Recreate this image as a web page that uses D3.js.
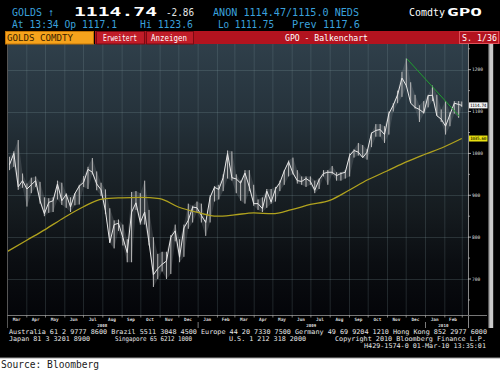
<!DOCTYPE html>
<html lang="en">
<head>
<meta charset="utf-8">
<title>GOLDS Comdty GPO</title>
<script src="https://d3js.org/d3.v7.min.js"></script>
<style>
  body { margin: 0; background: #000; }
  svg { display: block; }
  text { font-family: "DejaVu Sans Mono", monospace; }
</style>
</head>
<body>
<script>

// weekly bars (Mondays from 3 Mar 2008 to 1 Mar 2010)
var weekHigh = [992, 1005, 1032, 952, 928, 942, 945, 932, 895, 893, 895, 935, 930, 905, 895, 905, 925, 946, 968, 989,
  957, 930, 914, 869, 840, 842, 830, 795, 908, 910, 905, 935, 865, 800, 760, 765, 765, 805, 830, 795,
  830, 880, 875, 885, 880, 840, 900, 922, 925, 950, 1007, 1005, 950, 935, 960, 960, 925, 890, 895, 915,
  915, 920, 935, 960, 983, 990, 960, 945, 945, 945, 935, 940, 960, 960, 970, 955, 955, 960, 1000, 1010,
  1025, 1020, 1010, 1050, 1070, 1070, 1065, 1100, 1120, 1150, 1195, 1227, 1170, 1140, 1115, 1125, 1140, 1162, 1140, 1105,
  1125, 1098, 1125, 1125, 1124];
var weekLow = [960, 968, 913, 918, 873, 905, 920, 880, 850, 858, 860, 890, 877, 870, 860, 876, 878, 920, 915, 950,
  912, 898, 855, 786, 773, 815, 780, 740, 740, 865, 830, 830, 780, 681, 700, 718, 700, 712, 790, 740,
  753, 820, 835, 860, 835, 803, 835, 885, 890, 910, 940, 935, 905, 887, 880, 910, 875, 865, 860, 870,
  880, 885, 910, 925, 945, 950, 928, 925, 920, 925, 905, 915, 945, 925, 950, 935, 935, 940, 945, 990,
  995, 990, 985, 1015, 1040, 1040, 1025, 1045, 1100, 1120, 1135, 1160, 1120, 1107, 1075, 1095, 1110, 1125, 1090, 1075,
  1045, 1065, 1095, 1085, 1111];
var weekClose = [973, 1000, 920, 935, 915, 925, 935, 887, 856, 883, 887, 927, 887, 902, 872, 904, 922, 931, 962, 955,
  927, 913, 863, 787, 830, 833, 799, 763, 860, 882, 835, 860, 787, 710, 725, 735, 743, 800, 815, 752,
  822, 840, 872, 870, 852, 835, 895, 919, 914, 942, 1000, 942, 939, 929, 953, 920, 880, 880, 868, 910,
  884, 915, 930, 958, 980, 953, 935, 933, 940, 933, 912, 937, 952, 955, 955, 947, 952, 955, 995, 1007,
  1003, 990, 1003, 1048, 1055, 1057, 1045, 1095, 1115, 1140, 1180, 1162, 1120, 1110, 1105, 1097, 1138, 1139, 1090, 1082,
  1065, 1093, 1120, 1117, 1114.74];

// 200-day moving average, first of each month Mar 2008 .. Mar 2010
var maValues = [765, 792, 818, 847, 872, 891, 894, 895, 892, 872, 859, 850, 853, 858, 856, 866, 878, 888,
  912, 937, 958, 979, 998, 1016, 1035.6];

// green trend line
var trendDates = [new Date(2009, 11, 3), new Date(2010, 1, 25)];
var trendValues = [1226, 1089];

var yTicks = [700, 800, 900, 1000, 1100, 1200];
var yMinor = [650, 750, 850, 950, 1050, 1150, 1250];
var lastPrice = 1114.74;

var W = 500, H = 370;
var plot = {left: 7, right: 468, top: 44, bottom: 315};

var svg = d3.select("body").append("svg")
  .attr("width", W).attr("height", H);

svg.append("rect").attr("width", W).attr("height", H).attr("fill", "#000");

var x = d3.scaleTime()
  .domain([new Date(2008, 2, 1), new Date(2010, 2, 11)])
  .range([plot.left, plot.right]);
var y = d3.scaleLinear().domain([700, 1200]).range([279, 69.7]);

var weeks = d3.timeMonday.range(new Date(2008, 2, 3), new Date(2010, 2, 2));
var lastDay = new Date(2010, 2, 1);
var bars = weeks.map(function(d, i) {
  var mid = d3.timeDay.offset(d, 2);
  if (mid > lastDay) mid = lastDay;
  return {date: mid, hi: weekHigh[i], lo: weekLow[i], close: weekClose[i]};
});
var months = d3.timeMonth.range(new Date(2008, 2, 1), new Date(2010, 2, 2));
var ma = months.map(function(d, i) { return {date: d, v: maValues[i]}; });

// background gradient
var defs = svg.append("defs");
var grad = defs.append("linearGradient").attr("id", "bg")
  .attr("gradientUnits", "userSpaceOnUse")
  .attr("x1", 0).attr("x2", 0).attr("y1", plot.top).attr("y2", plot.bottom);
[[0, "#2f3f4a"], [0.25, "#26333c"], [0.45, "#1c252b"], [0.62, "#151b1f"], [0.8, "#0b0e12"], [1, "#040509"]]
  .forEach(function(s) { grad.append("stop").attr("offset", s[0]).attr("stop-color", s[1]); });
defs.append("clipPath").attr("id", "clip").append("rect")
  .attr("x", plot.left).attr("y", plot.top)
  .attr("width", plot.right - plot.left).attr("height", plot.bottom - plot.top);

svg.append("rect")
  .attr("x", plot.left).attr("y", plot.top)
  .attr("width", plot.right - plot.left).attr("height", plot.bottom - plot.top)
  .attr("fill", "url(#bg)");

// grid
var grid = svg.append("g").attr("clip-path", "url(#clip)");
grid.selectAll(".vg").data(months.slice(1)).enter().append("line")
  .attr("x1", function(d) { return x(d) + 0.5; }).attr("x2", function(d) { return x(d) + 0.5; })
  .attr("y1", plot.top).attr("y2", plot.bottom)
  .attr("stroke", "#8aa4aa").attr("stroke-opacity", 0.2);
grid.selectAll(".hg").data(yTicks).enter().append("line")
  .attr("x1", plot.left).attr("x2", plot.right)
  .attr("y1", function(d) { return Math.round(y(d)) + 0.5; })
  .attr("y2", function(d) { return Math.round(y(d)) + 0.5; })
  .attr("stroke", "#8aa4aa").attr("stroke-opacity", 0.22);

// price bars
var g = svg.append("g").attr("clip-path", "url(#clip)");
g.append("path").datum(bars)
  .attr("d", d3.area()
    .x(function(d) { return x(d.date); })
    .y0(function(d) { return y(d.lo); })
    .y1(function(d) { return y(d.hi); }))
  .attr("fill", "#9aa0a4").attr("fill-opacity", 0.22);
g.selectAll(".bar").data(bars).enter().append("line")
  .attr("x1", function(d) { return x(d.date); }).attr("x2", function(d) { return x(d.date); })
  .attr("y1", function(d) { return y(d.lo); }).attr("y2", function(d) { return y(d.hi); })
  .attr("stroke", "#bcbcbc").attr("stroke-width", 1);
g.append("path").datum(bars)
  .attr("d", d3.line().x(function(d) { return x(d.date); }).y(function(d) { return y(d.close); }))
  .attr("fill", "none").attr("stroke", "#e8e8e8").attr("stroke-width", 1);

// moving average
g.append("path").datum(ma)
  .attr("d", d3.line().curve(d3.curveMonotoneX)
    .x(function(d) { return x(d.date); }).y(function(d) { return y(d.v); }))
  .attr("fill", "none").attr("stroke", "#b0a21e").attr("stroke-width", 1.3);

// trend line
g.append("line")
  .attr("x1", x(trendDates[0])).attr("y1", y(trendValues[0]))
  .attr("x2", x(trendDates[1])).attr("y2", y(trendValues[1]))
  .attr("stroke", "#1f9e2e").attr("stroke-width", 1);

// frame
svg.append("line").attr("x1", plot.left + 0.5).attr("x2", plot.left + 0.5)
  .attr("y1", plot.top).attr("y2", 328).attr("stroke", "#555");
svg.append("line").attr("x1", plot.right + 0.5).attr("x2", plot.right + 0.5)
  .attr("y1", plot.top).attr("y2", 328).attr("stroke", "#888");
svg.append("line").attr("x1", plot.left).attr("x2", 487)
  .attr("y1", plot.bottom + 0.5).attr("y2", plot.bottom + 0.5).attr("stroke", "#777");

// right axis
var ra = svg.append("g");
ra.selectAll(".maj").data(yTicks).enter().append("line")
  .attr("x1", plot.right).attr("x2", plot.right + 3)
  .attr("y1", function(d) { return y(d); }).attr("y2", function(d) { return y(d); })
  .attr("stroke", "#ccc").attr("stroke-width", 0.8);
ra.selectAll(".min").data(yMinor.filter(function(d) { return y(d) > plot.top && y(d) < plot.bottom; }))
  .enter().append("line")
  .attr("x1", plot.right).attr("x2", plot.right + 2)
  .attr("y1", function(d) { return y(d); }).attr("y2", function(d) { return y(d); })
  .attr("stroke", "#aaa").attr("stroke-width", 0.8);
ra.selectAll(".lab").data(yTicks).enter().append("text")
  .attr("x", 472).attr("y", function(d) { return y(d); }).attr("dy", "0.35em")
  .attr("font-size", 4.6).attr("fill", "#ddd").text(function(d) { return d; });

// last value tags
function tag(v, bg) {
  ra.append("rect").attr("x", 469).attr("y", y(v) - 3).attr("width", 18.5).attr("height", 6)
    .attr("fill", bg);
  ra.append("text").attr("x", 470).attr("y", y(v)).attr("dy", "0.35em")
    .attr("font-size", 4.4).attr("fill", "#000").attr("textLength", 16.5)
    .text(d3.format(".2f")(v));
}
tag(lastPrice, "#f2f2f2");
tag(maValues[maValues.length - 1], "#e8e010");

// scrollbar
svg.append("rect").attr("x", 488).attr("y", plot.top).attr("width", 1.2).attr("height", 284).attr("fill", "#555");
svg.append("rect").attr("x", 489.2).attr("y", plot.top).attr("width", 4).attr("height", 284).attr("fill", "#c9c9c9");

// bottom axis
var ba = svg.append("g");
ba.selectAll(".tk").data(months.slice(1)).enter().append("line")
  .attr("x1", function(d) { return x(d) + 0.5; }).attr("x2", function(d) { return x(d) + 0.5; })
  .attr("y1", plot.bottom).attr("y2", plot.bottom + 2.5)
  .attr("stroke", "#999").attr("stroke-width", 0.8);
ba.selectAll(".ml").data(months.slice(0, 24)).enter().append("text")
  .attr("x", function(d) { return (x(d) + x(d3.timeMonth.offset(d, 1))) / 2; })
  .attr("y", 321)
  .attr("text-anchor", "middle").attr("font-size", 4.4).attr("font-weight", "bold")
  .attr("fill", "#ddd").text(d3.timeFormat("%b"));
var years = [2008, 2009, 2010];
ba.selectAll(".yl").data(years).enter().append("text")
  .attr("x", function(d) {
    var a = Math.max(x(new Date(d, 0, 1)), plot.left);
    var b = Math.min(x(new Date(d + 1, 0, 1)), x(new Date(2010, 2, 1)));
    return (a + b) / 2;
  })
  .attr("y", 326.5).attr("text-anchor", "middle").attr("font-size", 4.2).attr("font-weight", "bold")
  .attr("fill", "#ddd").text(function(d) { return d; });
ba.selectAll(".ys").data([new Date(2009, 0, 1), new Date(2010, 0, 1)]).enter().append("line")
  .attr("x1", function(d) { return x(d) + 0.5; }).attr("x2", function(d) { return x(d) + 0.5; })
  .attr("y1", 322).attr("y2", 328).attr("stroke", "#999").attr("stroke-width", 0.8);

// header
var cyan = "#3aa0dc";
function txt(s, px, py, size, fill, len, weight, family) {
  var t = svg.append("text").attr("x", px).attr("y", py).attr("font-size", size)
    .attr("fill", fill).text(s);
  if (len) t.attr("textLength", len).attr("lengthAdjust", "spacingAndGlyphs");
  if (weight) t.attr("font-weight", weight);
  if (family) t.attr("font-family", family);
  return t;
}
txt("GOLDS", 12, 15.6, 11, cyan, 30);
txt("\u2191", 48.5, 15.6, 11, cyan, 5);
txt("1114.74", 74, 15.7, 12.5, "#fff", 83, "bold");
txt("-2.86", 166, 15.6, 11, "#e6e6e6", 28);
txt("ANON 1114.47/1115.0 NEDS", 213, 15.6, 11, cyan, 146);
txt("Comdty", 409, 15.6, 10.5, "#fff", 36, null, "Liberation Sans, Arial, sans-serif");
txt("GPO", 447, 15.8, 11, "#fff", 35, "bold", "Liberation Sans, Arial, sans-serif");
txt("At 13:34 Op 1117.1", 12, 27.6, 11, cyan, 105);
txt("Hi 1123.6", 140, 27.6, 11, cyan, 53);
txt("Lo 1111.75", 218, 27.6, 11, cyan, 56);
txt("Prev 1117.6", 292, 27.6, 11, cyan, 68);

// tab bar
svg.append("rect").attr("x", 95).attr("y", 31).attr("width", 405).attr("height", 13).attr("fill", "#b3131f");
svg.append("rect").attr("x", 5.5).attr("y", 31.5).attr("width", 88).attr("height", 12.5)
  .attr("fill", "#f6a31c").attr("stroke", "#c27406");
txt("GOLDS COMDTY", 7, 41.2, 9, "#3a2200", 66);
[[96, 48, "Erweitert", 103, 34], [146, 47, "Anzeigen", 151, 36]].forEach(function(t) {
  svg.append("rect").attr("x", t[0] + 0.5).attr("y", 31.5).attr("width", t[1]).attr("height", 12.5)
    .attr("fill", "#c01c28").attr("stroke", "#7a0a12");
  txt(t[2], t[3], 41, 8.5, "#fff", t[4], null, "Liberation Sans, Arial, sans-serif");
});
txt("GPO - Balkenchart", 285, 41.2, 9, "#fff", 83);
svg.append("rect").attr("x", 459.5).attr("y", 31.5).attr("width", 39).attr("height", 12)
  .attr("fill", "#b3131f").attr("stroke", "#e05058");
txt("S. 1/36", 462, 41.2, 9, "#fff", 35);

// footer
var foot = "#e6e6e6";
txt("Australia 61 2 9777 8600 Brazil 5511 3048 4500 Europe 44 20 7330 7500 Germany 49 69 9204 1210 Hong Kong 852 2977 6000",
  9, 333.6, 6.5, foot, 478);
txt("Japan 81 3 3201 8900", 9, 341, 6.5, foot, 81);
txt("Singapore 65 6212 1000", 115, 341, 6.5, foot, 77);
txt("U.S. 1 212 318 2000", 229, 341, 6.5, foot, 77);
txt("Copyright 2010 Bloomberg Finance L.P.", 335, 341, 6.5, foot, 151);
txt("H429-1574-0 01-Mar-10 13:35:01", 364, 348, 6.5, foot, 122);

// source strip
svg.append("rect").attr("x", 0).attr("y", 358).attr("width", W).attr("height", 12).attr("fill", "#fff");
svg.append("line").attr("x1", 0).attr("x2", W).attr("y1", 358).attr("y2", 358).attr("stroke", "#999");
txt("Source: Bloomberg", 1, 367.8, 10.5, "#1a1a1a", 98, null, "DejaVu Sans, sans-serif");

</script>
</body>
</html>
